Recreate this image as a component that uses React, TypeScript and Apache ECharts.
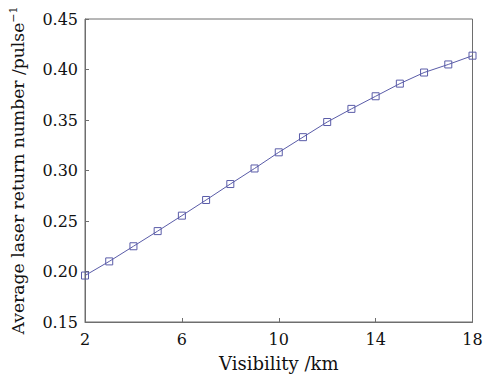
import React, { useEffect, useRef } from "react";
import * as echarts from "echarts";

const visibility = ["2", "3", "4", "5", "6", "7", "8", "9", "10", "11", "12", "13", "14", "15", "16", "17", "18"];
const returnNumber = [0.196, 0.210, 0.225, 0.240, 0.2553, 0.2708, 0.2866, 0.302, 0.318, 0.333, 0.348, 0.361, 0.3735, 0.386, 0.397, 0.405, 0.4137];
const yMin = 0.15;
const yMax = 0.45;
const yStep = 0.05;

const FONT = "DejaVu Serif";
const AXIS_COLOR = "#6e6e6e";
const LINE_COLOR = "#5a5ca8";
const TEXT_COLOR = "#111111";

export default function App() {
  const ref = useRef<HTMLDivElement>(null);
  useEffect(() => {
    document.body.style.margin = "0";
    const chart = echarts.init(ref.current!, null, { renderer: "svg" });
    chart.setOption({
      animation: false,
      backgroundColor: "#ffffff",
      grid: {
        left: 80.5,
        right: 14.5,
        top: 19,
        bottom: 55,
        show: true,
        borderColor: AXIS_COLOR,
        borderWidth: 1,
        containLabel: false,
      },
      xAxis: {
        type: "category",
        data: visibility,
        boundaryGap: false,
        name: "Visibility /km",
        nameLocation: "middle",
        nameGap: 32,
        nameTextStyle: { fontFamily: FONT, fontSize: 18, color: TEXT_COLOR },
        axisLine: { lineStyle: { color: AXIS_COLOR, width: 1 } },
        axisTick: { inside: true, length: 4, interval: 3, lineStyle: { color: AXIS_COLOR } },
        axisLabel: { interval: 3, margin: 9, fontFamily: FONT, fontSize: 16, color: TEXT_COLOR },
        splitLine: { show: false },
      },
      yAxis: {
        type: "value",
        min: yMin,
        max: yMax,
        interval: yStep,
        name: "Average laser return number /pulse{sup|−1}",
        nameLocation: "middle",
        nameGap: 57,
        nameTextStyle: {
          fontFamily: FONT,
          fontSize: 17.2,
          color: TEXT_COLOR,
          rich: {
            sup: { fontFamily: FONT, fontSize: 11, color: TEXT_COLOR, padding: [0, 0, 9, 0] },
          },
        },
        axisLine: { show: true, lineStyle: { color: AXIS_COLOR, width: 1 } },
        axisTick: { show: true, inside: true, length: 4, lineStyle: { color: AXIS_COLOR } },
        axisLabel: {
          margin: 7,
          fontFamily: FONT,
          fontSize: 16,
          color: TEXT_COLOR,
          formatter: (v: number) => v.toFixed(2),
        },
        splitLine: { show: false },
      },
      series: [
        {
          type: "line",
          data: returnNumber,
          symbol: "rect",
          symbolSize: 7,
          lineStyle: { color: LINE_COLOR, width: 1 },
          itemStyle: { color: "none", borderColor: LINE_COLOR, borderWidth: 1 },
        },
      ],
    });
    return () => chart.dispose();
  }, []);
  return <div ref={ref} style={{ width: 487, height: 377 }} />;
}
